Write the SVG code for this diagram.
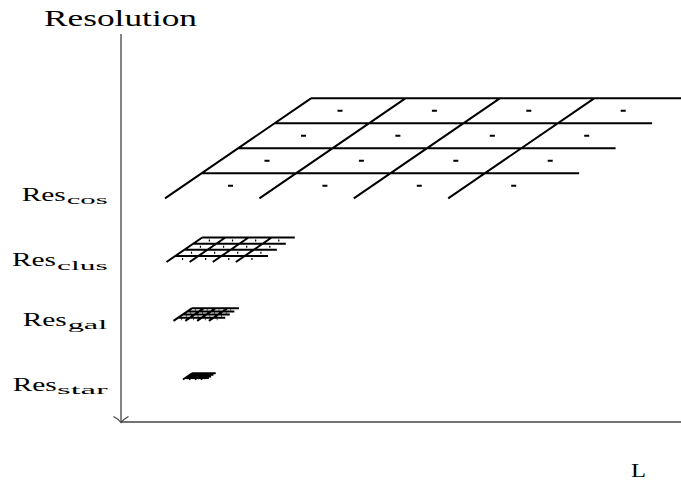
<svg xmlns="http://www.w3.org/2000/svg" xmlns:xlink="http://www.w3.org/1999/xlink" width="681" height="481" viewBox="0 0 681 481">
<style>
.ax{stroke:#444;stroke-width:1.3;fill:none}
.gl{stroke:#000;stroke-width:2;fill:none;vector-effect:non-scaling-stroke}
.gd{stroke:#000;stroke-width:2;fill:none;vector-effect:non-scaling-stroke}
.t{font-family:"Liberation Serif","Times New Roman",serif;fill:#000}
.big{font-size:23px}
.res{font-size:19px}
.sub{font-size:13px}
</style>
<defs>
<g id="grid">
<path class="gl" d="M0,0 l146,-100 M94.4,0 l146,-100 M188.8,0 l146,-100 M283.2,0 l146,-100 M146,-100 h377.6 M109.5,-75 h377.6 M73,-50 h377.6 M36.5,-25 h377.6"/>
<path class="gd" d="M172.5,-87.5 h5 M266.9,-87.5 h5 M361.3,-87.5 h5 M455.7,-87.5 h5 M136,-62.5 h5 M230.4,-62.5 h5 M324.8,-62.5 h5 M419.2,-62.5 h5 M99.5,-37.5 h5 M193.9,-37.5 h5 M288.3,-37.5 h5 M382.7,-37.5 h5 M63,-12.5 h5 M157.4,-12.5 h5 M251.8,-12.5 h5 M346.2,-12.5 h5"/>
</g>
</defs>
<g id="axes">
<path class="ax" d="M121,34 V422 M121,422 H681"/>
<path class="ax" d="M113.5,416.5 Q119,419.5 121,422.5 Q123,419.5 128.5,416.5"/>
</g>
<g id="grid-cos"><use xlink:href="#grid" transform="translate(165,198.3)"/></g>
<g id="grid-clus"><use xlink:href="#grid" transform="translate(166.5,262) scale(0.245)"/></g>
<g id="grid-gal"><use xlink:href="#grid" transform="translate(173.5,320.8) scale(0.125)"/></g>
<g id="grid-star"><use xlink:href="#grid" transform="translate(183,379.5) scale(0.0625)"/></g>
<g id="labels">
<text class="t big" x="44" y="26" textLength="153" lengthAdjust="spacingAndGlyphs">Resolution</text>
<text class="t res" x="21.7" y="200.7" textLength="44" lengthAdjust="spacingAndGlyphs">Res</text>
<text class="t sub" x="66.7" y="204" textLength="41" lengthAdjust="spacingAndGlyphs">cos</text>
<text class="t res" x="12" y="266" textLength="44" lengthAdjust="spacingAndGlyphs">Res</text>
<text class="t sub" x="57" y="269.5" textLength="50.7" lengthAdjust="spacingAndGlyphs">clus</text>
<text class="t res" x="22.7" y="325.7" textLength="44" lengthAdjust="spacingAndGlyphs">Res</text>
<text class="t sub" x="67.7" y="329" textLength="39.6" lengthAdjust="spacingAndGlyphs">gal</text>
<text class="t res" x="12.7" y="390.7" textLength="44" lengthAdjust="spacingAndGlyphs">Res</text>
<text class="t sub" x="57" y="394" textLength="50.7" lengthAdjust="spacingAndGlyphs">star</text>
<text class="t res" x="631" y="477" textLength="15" lengthAdjust="spacingAndGlyphs">L</text>
</g>
</svg>
